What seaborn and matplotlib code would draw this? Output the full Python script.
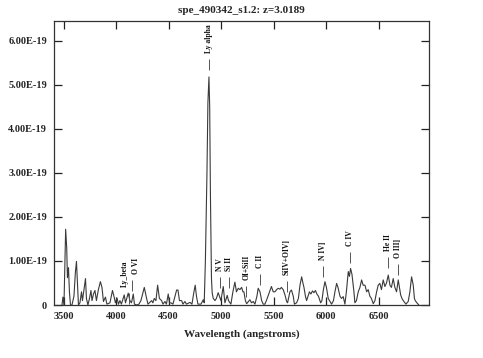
import matplotlib
matplotlib.use('Agg')
import matplotlib.pyplot as plt
import seaborn as sns
import numpy as np
import pandas as pd

# spectrum (angstroms, flux in 1e-19 units)
wavelength = [3484, 3493, 3503, 3512, 3519, 3529, 3536, 3546, 3555, 3565,
              3579, 3598, 3612, 3622, 3631, 3641, 3655, 3670, 3679, 3693,
              3708, 3717, 3731, 3746, 3760, 3770, 3784, 3798, 3812, 3831,
              3850, 3865, 3879, 3898, 3912, 3941, 3965, 3979, 3993, 4008,
              4022, 4036, 4050, 4077, 4089, 4115, 4131, 4146, 4163, 4174,
              4198, 4217, 4236, 4268, 4290, 4303, 4338, 4350, 4363, 4379,
              4395, 4412, 4433, 4446, 4465, 4479, 4496, 4508, 4522, 4541,
              4576, 4589, 4603, 4624, 4636, 4655, 4670, 4703, 4722, 4741,
              4753, 4765, 4779, 4808, 4830, 4839, 4850, 4865, 4874, 4884,
              4891, 4898, 4908, 4915, 4925, 4941, 4955, 4972, 4984, 4998,
              5020, 5030, 5036, 5058, 5070, 5093, 5112, 5131, 5146, 5163,
              5179, 5195, 5208, 5217, 5231, 5243, 5260, 5274, 5289, 5306,
              5322, 5341, 5353, 5370, 5386, 5401, 5417, 5431, 5449, 5460,
              5479, 5496, 5512, 5529, 5544, 5560, 5574, 5591, 5608, 5624,
              5633, 5655, 5670, 5687, 5698, 5719, 5736, 5751, 5767, 5779,
              5789, 5803, 5814, 5827, 5841, 5855, 5870, 5884, 5898, 5912,
              5927, 5948, 5960, 5974, 5989, 6003, 6020, 6032, 6052, 6070,
              6084, 6100, 6113, 6132, 6146, 6163, 6179, 6193, 6211, 6222,
              6233, 6246, 6252, 6265, 6274, 6289, 6306, 6322, 6338, 6353,
              6370, 6386, 6401, 6417, 6431, 6449, 6465, 6481, 6496, 6512,
              6527, 6544, 6560, 6575, 6592, 6608, 6622, 6639, 6655, 6671,
              6687, 6698, 6710, 6722, 6735, 6751, 6760, 6782, 6798, 6814,
              6830, 6841, 6849, 6868, 6884]
flux = [0, 0.18, 0, 1.0, 1.72, 1.3, 0.62, 0.85, 0.3, 0,
        0, 0.2, 0.75, 0.99, 0.5, 0, 0.05, 0.3, 0.1, 0.35,
        0.6, 0.15, 0, 0.15, 0.33, 0.1, 0.25, 0.33, 0.1, 0.35,
        0.53, 0.4, 0.08, 0.18, 0.02, 0.05, 0.33, 0.2, 0.05, 0.16,
        0.02, 0.1, 0.02, 0.23, 0.05, 0.27, 0.1, 0.05, 0.25, 0.02,
        0, 0.02, 0.1, 0.4, 0.15, 0.02, 0.1, 0.05, 0.15, 0.1,
        0.45, 0.15, 0.1, 0.02, 0.08, 0.02, 0.25, 0.05, 0.05, 0.02,
        0.34, 0.34, 0.1, 0.1, 0.02, 0.08, 0.02, 0.06, 0.02, 0.3,
        0.45, 0.2, 0.02, 0.02, 0.12, 0.05, 1.0, 3.0, 4.6, 5.18,
        4.5, 2.5, 0.6, 0.27, 0.15, 0.1, 0.15, 0.28, 0.2, 0.1,
        0.42, 0.2, 0.05, 0.22, 0.1, 0.02, 0.3, 0.52, 0.3, 0.38,
        0.35, 0.4, 0.3, 0.3, 0.1, 0.03, 0.08, 0.12, 0.05, 0.08,
        0.02, 0.2, 0.38, 0.3, 0.1, 0.02, 0.02, 0.1, 0.22, 0.3,
        0.42, 0.3, 0.3, 0.35, 0.38, 0.36, 0.4, 0.35, 0.23, 0.08,
        0.05, 0.3, 0.34, 0.2, 0.02, 0.05, 0.15, 0.45, 0.64, 0.5,
        0.4, 0.2, 0.1, 0.2, 0.3, 0.25, 0.32, 0.28, 0.33, 0.25,
        0.2, 0.05, 0.1, 0.35, 0.53, 0.4, 0.15, 0.1, 0.02, 0.1,
        0.3, 0.49, 0.4, 0.2, 0.15, 0.19, 0.02, 0.3, 0.76, 0.65,
        0.83, 0.7, 0.57, 0.3, 0.05, 0.1, 0.3, 0.4, 0.57, 0.45,
        0.45, 0.3, 0.35, 0.2, 0.15, 0.03, 0.1, 0.3, 0.45, 0.49,
        0.35, 0.57, 0.42, 0.5, 0.68, 0.45, 0.4, 0.6, 0.4, 0.3,
        0.57, 0.4, 0.23, 0.15, 0.1, 0.05, 0.02, 0.08, 0.3, 0.64,
        0.45, 0.15, 0.1, 0.04, 0.0]

redshift = 3.0189
line_names = ['Ly alpha', 'Ly_beta', 'O VI', 'N V', 'Si II', 'OI+SiII', 'C II',
              'SiIV+OIV]', 'N IV]', 'C IV', 'He II', 'O III]']
line_rest = [1215.67, 1025.72, 1033.8, 1240.8, 1262.6, 1304.0, 1335.3,
             1400.0, 1486.5, 1549.0, 1640.4, 1663.5]
line_base = [5.34, 0.02, 0.32, 0.39, 0.39, 0.18, 0.45, 0.30, 0.64, 0.95, 0.84, 0.68]
line_align = ['center', 'right', 'left', 'center', 'center', 'center', 'center',
              'center', 'center', 'center', 'center', 'center']

xticks = [3500, 4000, 4500, 5000, 5500, 6000, 6500]
yticks = [0, 1e-19, 2e-19, 3e-19, 4e-19, 5e-19, 6e-19]

spec = pd.DataFrame({'wavelength': wavelength, 'flux': np.array(flux) * 1e-19})

sns.set_style('ticks')
plt.rcParams['font.family'] = ['Liberation Serif', 'DejaVu Serif']
plt.rcParams['font.weight'] = 'bold'

fig = plt.figure(figsize=(4.83, 3.58), dpi=100)
ax = fig.add_axes([0.1118, 0.148, 0.7764, 0.7933])

sns.lineplot(data=spec, x='wavelength', y='flux', sort=False, estimator=None,
             color='#3a3a3a', linewidth=0.8, ax=ax)

# line identifications
for name, rest, base, ha in zip(line_names, line_rest, line_base, line_align):
    obs = rest * (1 + redshift)
    ax.vlines(obs, base * 1e-19, (base + 0.25) * 1e-19, color='#555555', linewidth=0.7)
    ax.text(obs, (base + 0.39) * 1e-19, name, rotation=90, ha=ha, va='bottom',
            fontsize=5.5, fontweight='bold', color='#111111')

ax.set_xlim(3408, 6980)
ax.set_ylim(0, 6.45e-19)
ax.set_xticks(xticks)
ax.set_yticks(yticks)
ax.set_yticklabels(['0'] + ['%.2E' % v for v in yticks[1:]])
ax.tick_params(direction='in', length=6, width=0.9, top=True, right=True,
               labelsize=7.5, pad=5, color='#222222')
for s in ax.spines.values():
    s.set_linewidth(0.9)
    s.set_color('#333333')
for lab in ax.get_xticklabels() + ax.get_yticklabels():
    lab.set_fontweight('bold')

ax.set_xlabel('Wavelength (angstroms)', fontsize=8, fontweight='bold', labelpad=6)
ax.set_ylabel('')
ax.set_title('spe_490342_s1.2: z=3.0189', fontsize=8, fontweight='bold', pad=6)

fig.savefig('out.png', dpi=100)
